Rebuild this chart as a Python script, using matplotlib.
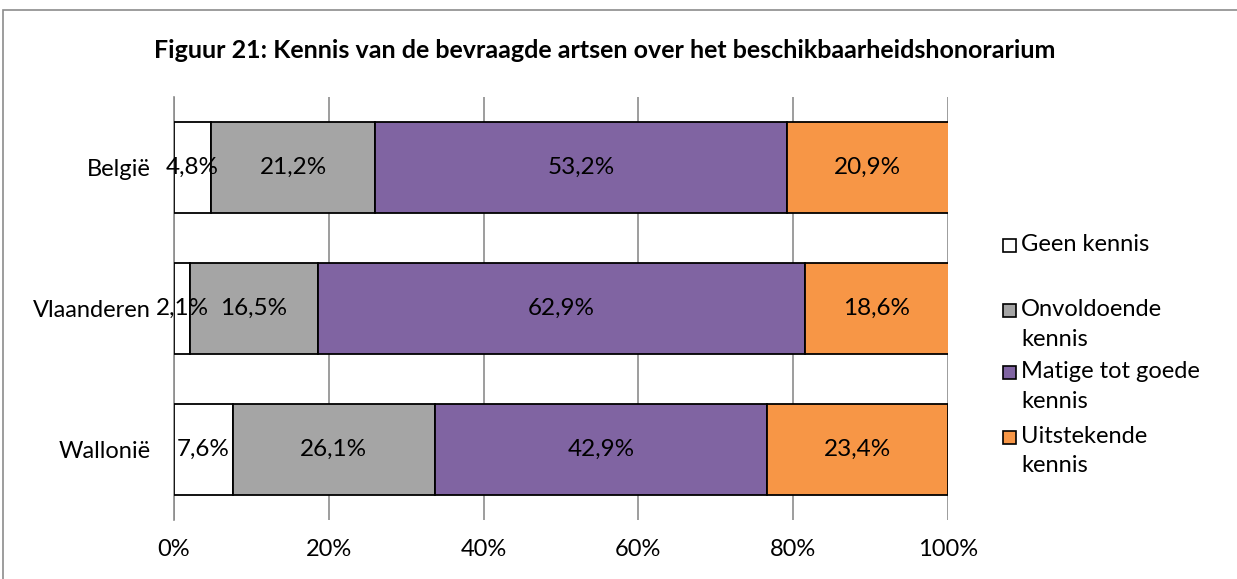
import numpy as np
import matplotlib.pyplot as plt
from matplotlib.patches import Rectangle

plt.rcParams['font.family'] = ['Lato', 'DejaVu Sans']

regions = ['België', 'Vlaanderen', 'Wallonië']
geen = [4.8, 2.1, 7.6]
onvoldoende = [21.2, 16.5, 26.1]
matig_goed = [53.2, 62.9, 42.9]
uitstekend = [20.9, 18.6, 23.4]

series = [geen, onvoldoende, matig_goed, uitstekend]
labels = ['Geen kennis', 'Onvoldoende\nkennis', 'Matige tot goede\nkennis', 'Uitstekende\nkennis']
colors = ['#FFFFFF', '#A5A5A5', '#8064A2', '#F79646']
xticks = [0, 20, 40, 60, 80, 100]

fig = plt.figure(figsize=(12.37, 5.79), dpi=100)
ax = fig.add_axes([174 / 1237, 1 - 520 / 579, (948 - 174) / 1237, (520 - 97) / 579])

# outer chart border
fig.patches.append(Rectangle((3 / 1237, -0.1), 1.2, 1 - 10 / 579 + 0.1, transform=fig.transFigure,
                             fill=False, edgecolor='#8c8c8c', linewidth=1.2))

y = np.arange(len(regions))
left = np.zeros(len(regions))
for vals, col in zip(series, colors):
    vals = np.array(vals)
    ax.barh(y, vals, left=left, height=0.645, color=col, edgecolor='black', linewidth=1.3, zorder=3)
    for yi, l, v in zip(y, left, vals):
        ax.text(l + v / 2, yi, f'{v:.1f}%'.replace('.', ','), ha='center', va='center',
                fontsize=17.5, zorder=4)
    left += vals

ax.set_xlim(0, 100)
ax.set_ylim(2.5, -0.5)
ax.set_xticks(xticks)
ax.set_xticklabels([f'{t}%' for t in xticks], fontsize=17)
ax.set_yticks(y)
ax.set_yticklabels(regions, fontsize=17)
ax.tick_params(axis='both', length=0)
ax.tick_params(axis='x', pad=14)
ax.tick_params(axis='y', pad=17)
ax.grid(axis='x', color='#8c8c8c', linewidth=1.2, zorder=0)
for s in ['top', 'right', 'bottom']:
    ax.spines[s].set_visible(False)
ax.spines['left'].set_color('#8c8c8c')
ax.spines['left'].set_linewidth(1.2)

fig.text(605 / 1237, 1 - 50 / 579, 'Figuur 21: Kennis van de bevraagde artsen over het beschikbaarheidshonorarium',
         ha='center', va='center', fontsize=18, fontweight='bold')

# legend, handle aligned with first text line
leg_y = [245, 310, 372, 437]
for lab, col, yy in zip(labels, colors, leg_y):
    fig.patches.append(Rectangle((1003 / 1237, 1 - (yy + 7) / 579), 13 / 1237, 13 / 579,
                                 transform=fig.transFigure, facecolor=col, edgecolor='black', linewidth=1.2))
    fig.text(1021 / 1237, 1 - (yy - 11) / 579, lab, ha='left', va='top', fontsize=17, linespacing=1.5)

fig.savefig('out.png', dpi=100)
